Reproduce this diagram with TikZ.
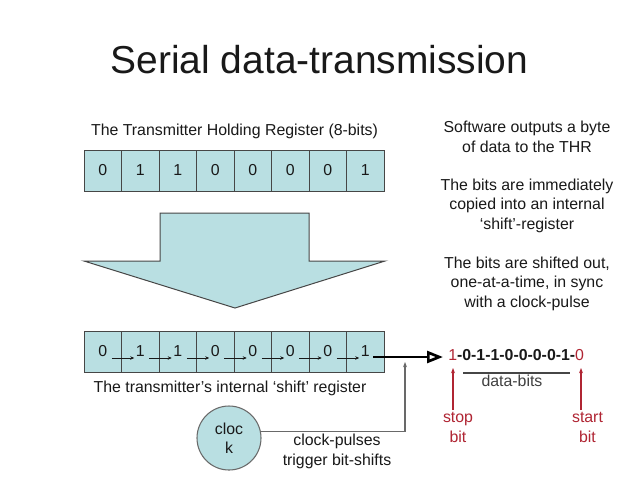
\documentclass[tikz,border=0pt]{standalone}
\usepackage{fontspec}
\setmainfont{Liberation Sans}
\usetikzlibrary{arrows.meta,calc}
\definecolor{cellfill}{RGB}{185,223,226}
\definecolor{darkred}{RGB}{176,37,51}
\definecolor{txt}{RGB}{25,25,25}
\definecolor{wire}{RGB}{105,105,105}
\definecolor{edge}{RGB}{70,70,70}
\begin{document}
\begin{tikzpicture}[x=0.75pt,y=-0.75pt,
  every node/.style={font=\fontsize{11.9}{14.5}\selectfont, text=txt, inner sep=0pt},
  cell/.style={draw=edge, fill=cellfill, line width=0.75pt, minimum width=28.125pt, minimum height=30.75pt},
  digarrow/.style={draw=txt, line width=0.6pt, -{Stealth[length=3pt,width=2.6pt]}},
  outarrow/.style={draw=black, line width=2pt, -{Triangle[open,length=12pt,width=9pt]}},
  wireline/.style={draw=wire, line width=0.8pt},
  redarrow/.style={draw=darkred, line width=0.8pt, -{Stealth[length=4pt,width=3pt]}},
  rednote/.style={text=darkred, align=center, anchor=base}]
\useasboundingbox (0,0) rectangle (640,480);
\fill[white] (0,0) rectangle (640,480);

% title
\node[font=\fontsize{29.2}{35}\selectfont, anchor=base] (title) at (319.5,73) {Serial data-transmission};

% THR label
\node[anchor=base] (thrlabel) at (234.5,135) {The Transmitter Holding Register (8-bits)};

% top register
\foreach \b [count=\i] in {0,1,1,0,0,0,0,1}
  \node[cell] (t\i) at ({84+37.5*(\i-0.5)},170.5) {\b};

% block arrow
\draw[draw=edge, fill=cellfill, line width=0.75pt]
  (160,213) -- (309,213) -- (309,261) -- (385,261) -- (235,308) -- (84,261) -- (160,261) -- cycle;

% bottom (shift) register
\foreach \b [count=\i] in {0,1,1,0,0,0,0,1}
  \node[cell] (b\i) at ({84+37.5*(\i-0.5)},351.5) {\b};
\foreach \i [evaluate=\i as \j using int(\i+1)] in {1,...,7}
  \draw[digarrow] ($(b\i.center)+(9,6.5)$) -- ($(b\j.center)+(-6,6.5)$);

\node[anchor=base] (shiftlabel) at (230,392) {The transmitter’s internal ‘shift’ register};

% output bits
\node[anchor=base west] (bits) at (448,360) {{\color{darkred}1}\textbf{-0-1-1-0-0-0-0-1-}{\color{darkred}0}};
\coordinate (outtip) at (443,357);
\draw[outarrow] ($(b8.center)+(8,5.5)$) -- (outtip);

% data-bits
\coordinate (db1) at (463,373);
\coordinate (db2) at (570,373);
\draw[wireline, draw=edge] (db1) -- (db2);
\node[anchor=base, text=black!75] (databits) at (512,386) {data-bits};

% stop / start bits (base anchor = last line baseline)
\node[rednote] (stop) at (458,442) {stop\\bit};
\node[rednote] (start) at (587.5,442) {start\\bit};
\coordinate (stoptip) at (453,368);
\coordinate (starttip) at (581,368);
\draw[redarrow] ($(stop.north -| stoptip)+(0,-2)$) -- (stoptip);
\draw[redarrow] ($(start.north -| starttip)+(0,-2)$) -- (starttip);

% clock
\node[circle, draw=wire, fill=cellfill, line width=0.8pt, minimum size=48pt, align=center] (clk) at (229,438) {cloc\\k};
\coordinate (tap) at (405,362);
\draw[wireline, -{Stealth[length=4pt,width=3pt]}] (clk.11) -- (clk.11 -| tap) -- (tap);
\node[anchor=base, align=center] (clocknote) at (337,465) {clock-pulses\\trigger bit-shifts};

% right column
\node[anchor=base, align=center] (note1) at (527,152) {Software outputs a byte\\of data to the THR};
\node[anchor=base, align=center] (note2) at (527,229) {The bits are immediately\\copied into an internal\\‘shift’-register};
\node[anchor=base, align=center] (note3) at (527,307) {The bits are shifted out,\\one-at-a-time, in sync\\with a clock-pulse};
\end{tikzpicture}
\end{document}
